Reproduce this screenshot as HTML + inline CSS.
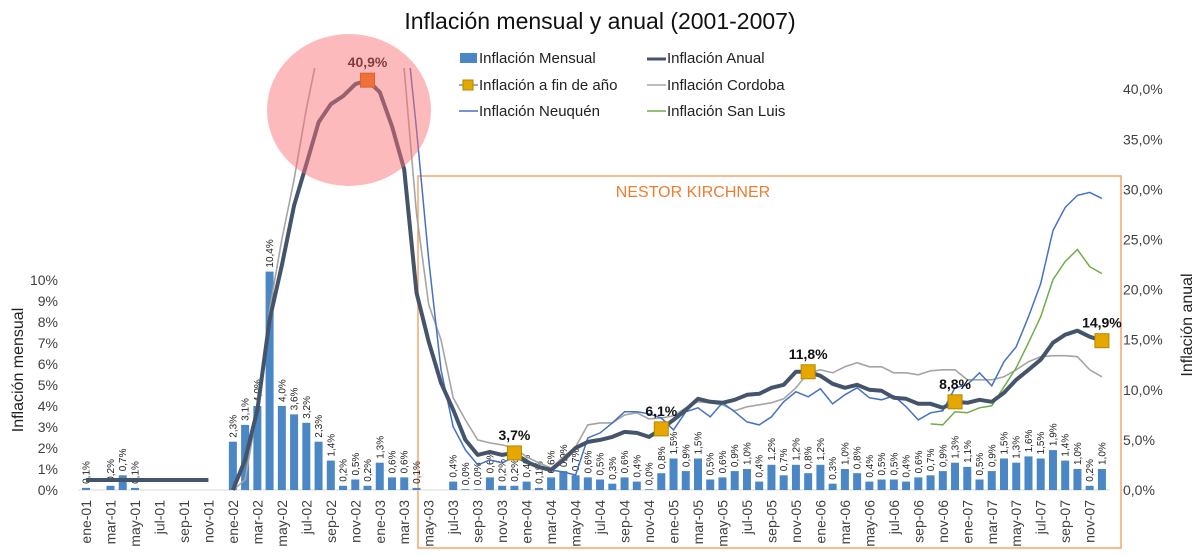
<!DOCTYPE html>
<html><head><meta charset="utf-8">
<style>
html,body{margin:0;padding:0;background:#fff;}
svg{display:block;font-family:"Liberation Sans",sans-serif;}
</style></head>
<body>
<svg id="chart" width="1200" height="556" viewBox="0 0 1200 556" xmlns="http://www.w3.org/2000/svg">
  <defs><clipPath id="plotclip"><rect x="60" y="68" width="1070" height="430"/></clipPath></defs>
  <text x="600" y="29" text-anchor="middle" font-size="23" fill="#111">Inflación mensual y anual (2001-2007)</text>
  <g font-size="15" fill="#222">
    <g><rect x="460" y="53" width="17" height="10" fill="#4a87c4"/><text x="479" y="63">Inflación Mensual</text></g>
    <g><line x1="647" y1="59" x2="666" y2="59" stroke="#44546a" stroke-width="3"/><text x="667" y="63">Inflación Anual</text></g>
    <g><line x1="459" y1="85" x2="478" y2="85" stroke="#44546a" stroke-width="1"/><rect x="463" y="80" width="10" height="10" fill="#e6a800" stroke="#b38600"/><text x="479" y="90">Inflación a fin de año</text></g>
    <g><line x1="647" y1="85" x2="666" y2="85" stroke="#a5a5a5" stroke-width="1.5"/><text x="667" y="90">Inflación Cordoba</text></g>
    <g><line x1="459" y1="111" x2="478" y2="111" stroke="#4472c4" stroke-width="1.5"/><text x="479" y="116">Inflación Neuquén</text></g>
    <g><line x1="647" y1="111" x2="666" y2="111" stroke="#70ad47" stroke-width="1.5"/><text x="667" y="116">Inflación San Luis</text></g>
  </g>
  <rect x="418" y="176" width="703" height="372" fill="none" stroke="#f4a66f" stroke-width="1.5"/>
  <text x="693" y="197" font-size="16" fill="#ed7d31" text-anchor="middle">NESTOR KIRCHNER</text>
  <line x1="78" y1="490" x2="1110" y2="490" stroke="#d9d9d9" stroke-width="1"/>
  <g id="leftAxis"></g>
  <g id="rightAxis"></g>
  <g id="xAxis"></g>
  <g id="bars"></g>
  <g id="lines"></g>
  <g id="markers"></g>
  <text transform="translate(23,370) rotate(-90)" text-anchor="middle" font-size="16" fill="#222">Inflación mensual</text>
  <text transform="translate(1192,325) rotate(-90)" text-anchor="middle" font-size="16" fill="#222">Inflación anual</text>
</svg>
<script>
const months = ["ene","feb","mar","abr","may","jun","jul","ago","sep","oct","nov","dic"];
const years = ["01","02","03","04","05","06","07"];
const monthly = [
 0.1,null,0.2,0.7,0.1,null,null,null,null,null,null,null,
 2.3,3.1,4.0,10.4,4.0,3.6,3.2,2.3,1.4,0.2,0.5,0.2,
 1.3,0.6,0.6,0.1,null,null,0.4,0.0,0.0,0.6,0.2,0.2,
 0.4,0.1,0.6,0.9,0.7,0.6,0.5,0.3,0.6,0.4,0.0,0.8,
 1.5,0.9,1.5,0.5,0.6,0.9,1.0,0.4,1.2,0.7,1.2,0.8,
 1.2,0.3,1.0,0.8,0.4,0.5,0.5,0.4,0.6,0.7,0.9,1.3,
 1.1,0.5,0.9,1.5,1.3,1.6,1.5,1.9,1.4,1.0,0.2,1.0];
const annual = [
 1.0,1.0,1.0,1.0,1.0,1.0,1.0,1.0,1.0,1.0,1.0,null,
 0,3,8,17,22.4,28.4,32.5,36.7,38.5,39.3,40.5,40.9,
 39.7,36.3,32,19.7,14.8,10.7,8.0,5.0,3.5,3.8,3.5,3.7,
 2.8,2.3,2.0,3.0,4.2,4.8,5.0,5.3,5.8,5.7,5.3,6.1,
 7.0,8.0,9.1,8.8,8.7,9.0,9.5,9.6,10.2,10.5,11.8,11.8,
 11.4,10.6,10.2,10.5,10.0,9.9,9.2,9.1,8.6,8.6,8.2,8.8,
 8.7,9.0,8.8,9.7,11.0,12.0,13.0,14.7,15.5,15.9,15.3,14.9];
const cordoba = [
 null,null,null,null,null,null,null,null,null,null,null,null,
 0,1.0,8,18,25,31,38,44,50,50,50,50,
 50,50,42,27.6,18.5,15,9.2,7.0,5.0,4.7,4.5,4.2,
 3.3,2.7,2.2,3.3,4.3,6.5,6.7,6.7,7.5,7.7,7.1,7.2,
 7.4,8.2,8.8,8.7,8.5,7.9,8.3,8.5,8.7,9.1,10.2,11.7,
 12.0,11.7,12.3,12.7,12.3,12.3,11.7,11.7,11.5,11.9,12.0,12.0,
 11.0,11.0,11.0,11.3,12.0,12.8,13.3,13.4,13.4,13.3,12.0,11.3];
const neuquen = [
 null,null,null,null,null,null,null,null,null,null,null,null,
 null,null,null,null,null,null,null,null,null,null,null,null,
 null,null,48,36,23,12,6.3,4.0,2.5,3.0,2.7,3.3,
 2.7,2.2,2.0,1.8,1.5,5.2,5.7,6.7,7.8,7.8,7.6,7.2,
 6.0,7.8,8.2,7.3,8.7,7.8,6.8,6.5,7.3,8.8,9.8,9.3,
 10.1,8.6,9.5,10.2,9.2,9.0,9.4,8.3,7.0,7.7,7.9,10.2,
 10.5,11.7,10.4,12.8,14.3,17.3,20.6,25.9,28.2,29.4,29.7,29.1];
const sanluis = [
 null,null,null,null,null,null,null,null,null,null,null,null,
 null,null,null,null,null,null,null,null,null,null,null,null,
 null,null,null,null,null,null,null,null,null,null,null,null,
 null,null,null,null,null,null,null,null,null,null,null,null,
 null,null,null,null,null,null,null,null,null,null,null,null,
 null,null,null,null,null,null,null,null,null,6.6,6.5,7.8,
 7.7,8.2,8.4,10.3,12.2,14.7,17.3,21.0,22.8,24.0,22.3,21.6];
const yearEndIdx = [23,35,47,59,71,83];
const yearEndVal = [40.9,3.7,6.1,11.8,8.8,14.9];
const yearEndLbl = ["40,9%","3,7%","6,1%","11,8%","8,8%","14,9%"];
const leftTicks = [0,1,2,3,4,5,6,7,8,9,10];
const rightTicks = [0,5,10,15,20,25,30,35,40];

const NS="http://www.w3.org/2000/svg";
const X0=86, STEP=12.24, BASE=490;
function xPos(i){return X0+i*STEP;}
function yL(v){return BASE-21*v;}
function yR(v){return BASE-10.02*v;}
function mk(tag,attrs,parent,txt){const e=document.createElementNS(NS,tag);for(const k in attrs)e.setAttribute(k,attrs[k]);if(txt!==undefined)e.textContent=txt;parent.appendChild(e);return e;}
const fmt=v=>v.toFixed(1).replace('.',',')+'%';

const la=document.getElementById('leftAxis');
leftTicks.forEach(t=>{const e=mk('text',{x:58,y:yL(t)+5,'text-anchor':'end','font-size':14,fill:'#404040'},la,t+'%');

});
const ra=document.getElementById('rightAxis');
rightTicks.forEach(t=>{const e=mk('text',{x:1123,y:yR(t)+5,'font-size':14,fill:'#404040'},ra,t.toFixed(1).replace('.',',')+'%');

});

const xa=document.getElementById('xAxis');
for(let i=0;i<84;i+=2){const lbl=months[i%12]+'-'+years[Math.floor(i/12)];
const e=mk('text',{transform:`translate(${xPos(i)+5},500) rotate(-90)`,'text-anchor':'end','font-size':14,fill:'#404040'},xa,lbl);

}

const bg=document.getElementById('bars');
monthly.forEach((v,i)=>{if(v===null)return;
const h=Math.max(21*v,0.8);
const r=mk('rect',{x:xPos(i)-4,y:BASE-h,width:8,height:h,fill:'#4a87c4'},bg);


const t=mk('text',{transform:`translate(${xPos(i)+3.5},${BASE-h-4}) rotate(-90)`,'font-size':10,fill:'#222'},bg,fmt(v));

});

const lg=document.getElementById('lines');
function path(arr){let d='',pen=false;arr.forEach((v,i)=>{if(v===null){pen=false;return;}d+=(pen?'L':'M')+xPos(i).toFixed(1)+' '+yR(v).toFixed(1)+' ';pen=true;});return d;}
const cg=mk('g',{'clip-path':'url(#plotclip)'},lg);
const pc=mk('path',{d:path(cordoba),fill:'none',stroke:'#a5a5a5','stroke-width':1.6},cg);


const pn=mk('path',{d:path(neuquen),fill:'none',stroke:'#4472c4','stroke-width':1.5},cg);


const ps=mk('path',{d:path(sanluis),fill:'none',stroke:'#70ad47','stroke-width':1.5},cg);


const pa=mk('path',{d:path(annual),fill:'none',stroke:'#44546a','stroke-width':4,'stroke-linejoin':'round'},lg);



const mg=document.getElementById('markers');
yearEndIdx.forEach((idx,k)=>{const cx=xPos(idx),cy=yR(yearEndVal[k]);
const r=mk('rect',{x:cx-7,y:cy-7,width:14,height:14,fill:k===0?'#e67300':'#e6a800',stroke:k===0?'#b35900':'#b38600','stroke-width':1},mg);


const t=mk('text',{x:cx,y:cy-13,'text-anchor':'middle','font-size':14,'font-weight':'bold',fill:'#111'},mg,yearEndLbl[k]);

});

const svg=document.getElementById('chart');
const c=mk('ellipse',{cx:349,cy:110,rx:82,ry:76,fill:'rgba(250,110,115,0.48)'},svg);


</script>
</body></html>
